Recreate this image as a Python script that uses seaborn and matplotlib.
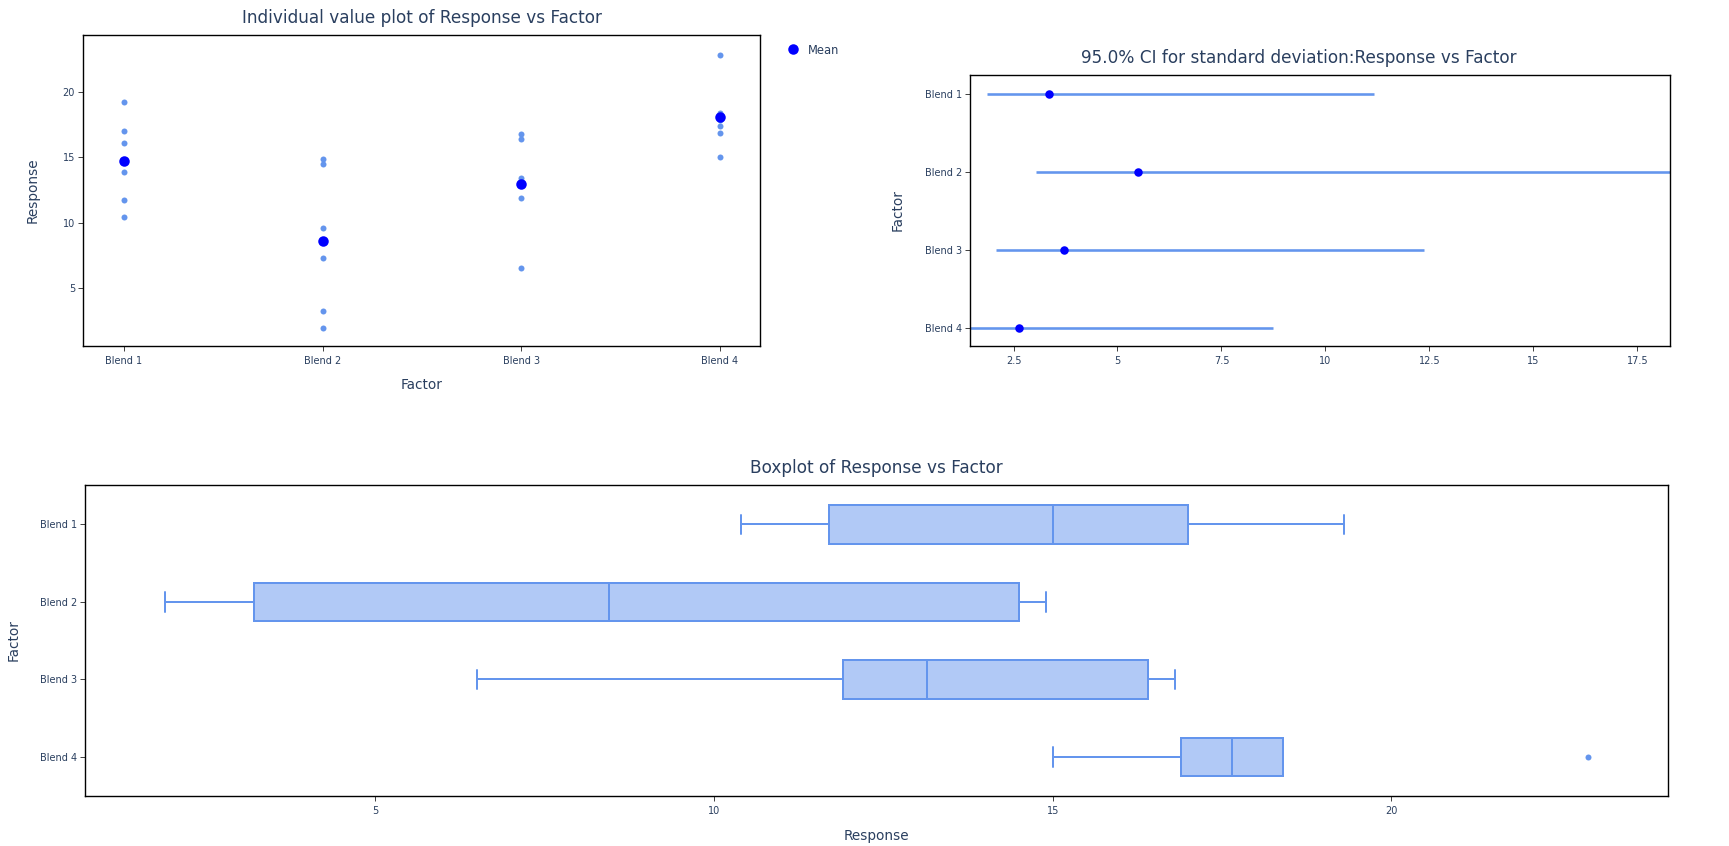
import numpy as np
import pandas as pd
import matplotlib
matplotlib.use("Agg")
import matplotlib.pyplot as plt
from matplotlib.lines import Line2D
import seaborn as sns

# ---------------- data ----------------
factors = ["Blend 1", "Blend 2", "Blend 3", "Blend 4"]
blend1 = [19.3, 17.0, 16.1, 13.9, 11.7, 10.4]
blend2 = [14.9, 14.5, 9.6, 7.3, 3.2, 1.9]
blend3 = [16.8, 16.4, 13.4, 12.9, 11.9, 6.5]
blend4 = [22.9, 18.4, 17.9, 17.4, 16.9, 15.0]

# 95% CI for standard deviation
sd_est = [3.36, 5.49, 3.72, 2.64]
ci_low = [1.87, 3.05, 2.08, 1.46]
ci_high = [11.16, 18.28, 12.38, 8.74]

ci_ticks = [2.5, 5, 7.5, 10, 12.5, 15, 17.5]
ci_ticklabels = ["2.5", "5", "7.5", "10", "12.5", "15", "17.5"]
resp_ticks = [5, 10, 15, 20]

groups = [blend1, blend2, blend3, blend4]
df = pd.DataFrame({
    "Factor": np.repeat(factors, [len(g) for g in groups]),
    "Response": np.concatenate(groups),
})

# ---------------- style ----------------
sns.set_theme(style="white")
plt.rcParams["font.family"] = ["DejaVu Sans"]
TXT = "#2a3f5f"
PT = 0.72  # points per pixel at dpi=100
W, H = 1729, 846
BLUE_PTS = "cornflowerblue"
MEAN_BLUE = "#0000ff"
BOX_FILL = "#b1c9f6"

fig = plt.figure(figsize=(W / 100, H / 100), dpi=100)


def px_axes(l, t, r, b):
    return fig.add_axes([l / W, 1 - b / H, (r - l) / W, (b - t) / H])


ax1 = px_axes(82.7, 35, 760.3, 346.3)
ax2 = px_axes(970.3, 75, 1669.7, 346.3)
ax3 = px_axes(85.3, 485.3, 1668.4, 796)


def style_axes(ax):
    for s in ax.spines.values():
        s.set_color("black")
        s.set_linewidth(1.0)
        s.set_visible(True)
    ax.tick_params(axis="both", which="major", direction="out",
                   bottom=True, left=True, top=False, right=False,
                   length=5 * PT, width=1 * PT,
                   color="#444444", labelcolor=TXT, labelsize=7)
    ax.tick_params(axis="x", pad=5 * PT)
    ax.tick_params(axis="y", pad=2.7 * PT)
    ax.grid(False)
    ax.set_xlabel("")
    ax.set_ylabel("")


# ---------------- individual value plot ----------------
sns.stripplot(data=df, x="Factor", y="Response", order=factors, jitter=False,
              color=BLUE_PTS, size=6 * PT, linewidth=0, ax=ax1, zorder=2)
sns.pointplot(data=df, x="Factor", y="Response", order=factors, estimator="mean",
              errorbar=None, linestyle="none", color=MEAN_BLUE, markers="o",
              markersize=10.5 * PT, markeredgewidth=0, ax=ax1, zorder=3)
ax1.set_xlim(-0.208, 3.203)
ax1.set_ylim(0.49, 24.41)
ax1.set_yticks(resp_ticks)
style_axes(ax1)

mean_handle = Line2D([], [], linestyle="none", marker="o", color=MEAN_BLUE,
                     markersize=10.5 * PT, markeredgewidth=0)
fig.legend([mean_handle], ["Mean"], loc="upper left",
           bbox_to_anchor=(787.3 / W, 1 - 43.5 / H), frameon=False,
           fontsize=8.3, handlelength=1.0, handletextpad=0.8,
           borderpad=0, borderaxespad=0, labelcolor=TXT)

# ---------------- CI for standard deviation ----------------
ax2.hlines(y=factors, xmin=ci_low, xmax=ci_high, color=BLUE_PTS,
           linewidth=2.6 * PT, zorder=2)
sns.scatterplot(x=sd_est, y=factors, color=MEAN_BLUE, s=(8.5 * PT) ** 2,
                linewidth=0, ax=ax2, zorder=3)
ax2.set_xlim(min(ci_low), max(ci_high))
ax2.set_ylim(3.24, -0.25)
ax2.set_xticks(ci_ticks, ci_ticklabels)
style_axes(ax2)

# ---------------- boxplot ----------------


def box_stats(vals, label):
    x = np.sort(np.asarray(vals, dtype=float))
    n = len(x)
    med = np.median(x)
    q1 = np.median(x[: n // 2])
    q3 = np.median(x[(n + 1) // 2:])
    iqr = q3 - q1
    lo_f, hi_f = q1 - 1.5 * iqr, q3 + 1.5 * iqr
    inside = x[(x >= lo_f) & (x <= hi_f)]
    return dict(med=med, q1=q1, q3=q3, whislo=inside.min(), whishi=inside.max(),
                fliers=x[(x < lo_f) | (x > hi_f)], label=label)


stats = [box_stats(g, f) for g, f in zip(groups, factors)]
lw = 2 * PT
common = dict(
    positions=range(len(factors)), widths=0.5, patch_artist=True,
    capwidths=0.25, manage_ticks=False,
    boxprops=dict(facecolor=BOX_FILL, edgecolor=BLUE_PTS, linewidth=lw),
    whiskerprops=dict(color=BLUE_PTS, linewidth=lw),
    capprops=dict(color=BLUE_PTS, linewidth=lw),
    medianprops=dict(color=BLUE_PTS, linewidth=lw),
    flierprops=dict(marker="o", markerfacecolor=BLUE_PTS, markeredgewidth=0,
                    markersize=6 * PT),
)
try:
    ax3.bxp(stats, orientation="horizontal", **common)
except TypeError:
    ax3.bxp(stats, vert=False, **common)
ax3.set_yticks(range(len(factors)), factors)
ax3.set_xlim(0.716, 24.09)
ax3.set_ylim(3.502, -0.503)
ax3.set_xticks(resp_ticks)
style_axes(ax3)

# ---------------- titles & axis labels ----------------


def ftext(x, y, s, size, rot=0):
    fig.text(x / W, 1 - y / H, s, ha="center", va="center", fontsize=size,
             color=TXT, rotation=rot)


ftext(421.5, 17.6, "Individual value plot of Response vs Factor", 12.2)
ftext(1299, 58.4, "95.0% CI for standard deviation:Response vs Factor", 12.2)
ftext(876.6, 467.8, "Boxplot of Response vs Factor", 12.2)

ftext(33, 190.6, "Response", 9.8, rot=90)
ftext(421.5, 385, "Factor", 9.8)
ftext(897.6, 210.5, "Factor", 9.8, rot=90)
ftext(13.2, 640.5, "Factor", 9.8, rot=90)
ftext(876.6, 835.8, "Response", 9.8)

fig.savefig("out.png", dpi=100)
